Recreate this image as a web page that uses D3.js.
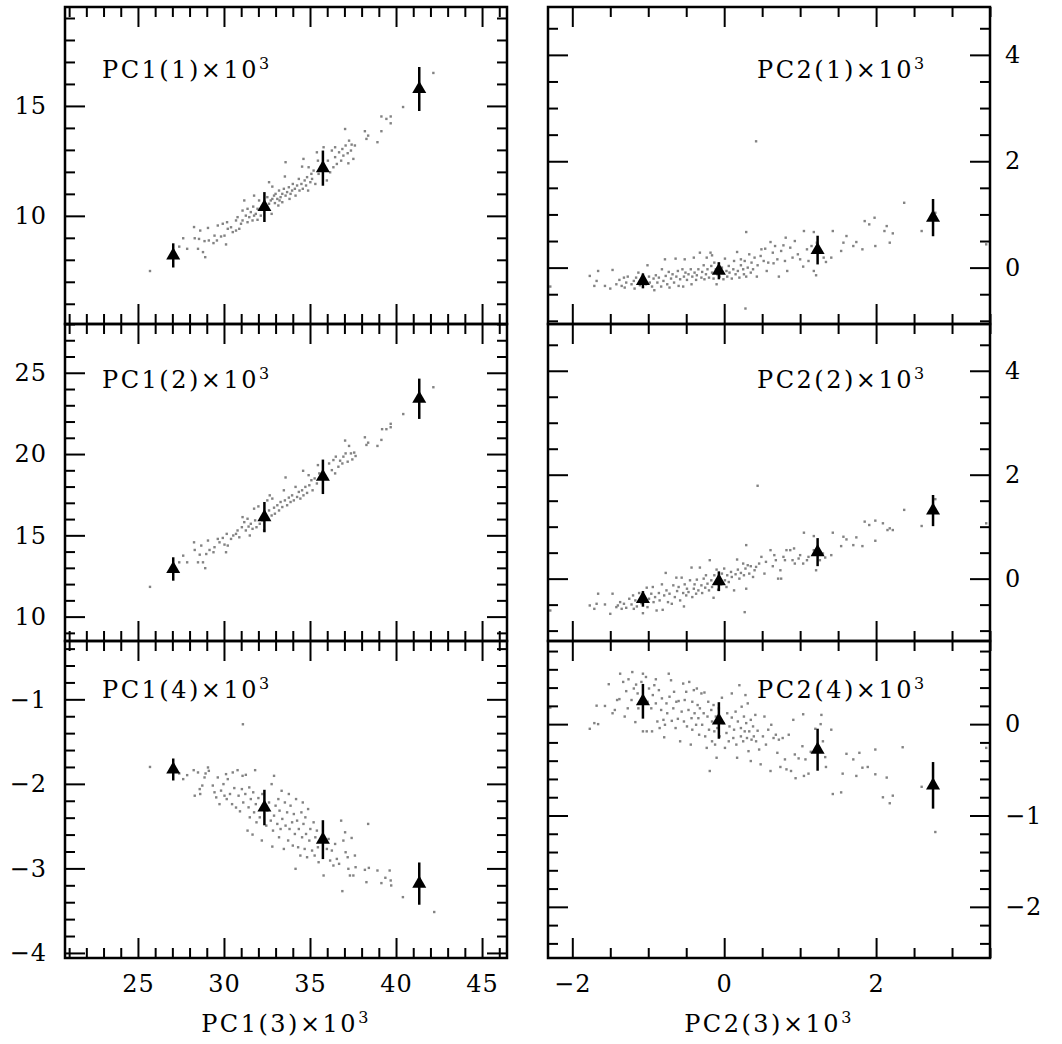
<!DOCTYPE html>
<html>
<head>
<meta charset="utf-8">
<script src="https://cdn.jsdelivr.net/npm/d3@7"></script>
<style>
html, body { margin: 0; padding: 0; background: #fff; }
svg { display: block; }
text { font-family: "DejaVu Serif", serif; font-size: 24px; fill: #000; }
.tick text { letter-spacing: 1px; }
.tick line { stroke: #000; stroke-width: 2; }
.frame { fill: none; stroke: #000; stroke-width: 2.5; }
.pt { fill: #838383; }
.err { stroke: #000; stroke-width: 2.5; }
.lbl { letter-spacing: 2.5px; }
.sup { font-size: 16px; }
</style>
</head>
<body>
<svg id="chart" width="1062" height="1044"></svg>
<script>
// tick labels
const xTicksA = [25, 30, 35, 40, 45]
const xTicksB = [-2, 0, 2]
const yTicksA1 = [10, 15]
const yTicksA2 = [10, 15, 20, 25]
const yTicksA4 = [-4, -3, -2, -1]
const yTicksB1 = [0, 2, 4]
const yTicksB2 = [0, 2, 4]
const yTicksB4 = [-2, -1, 0]

// panel names (each followed by ×10³)
const panelNames = ['PC1(1)', 'PC1(2)', 'PC1(4)', 'PC2(1)', 'PC2(2)', 'PC2(4)']
const axisNames = ['PC1(3)', 'PC2(3)']

// binned means (triangles) and their errors
const triXA = [27.05, 32.35, 35.75, 41.35]
const triXB = [-1.07, -0.07, 1.23, 2.75]
const triA1 = [8.2, 10.4, 12.17, 15.77],   errA1 = [0.55, 0.68, 0.8, 1.0]
const triA2 = [12.93, 16.12, 18.6, 23.4],  errA2 = [0.72, 0.93, 1.06, 1.24]
const triA4 = [-1.83, -2.28, -2.66, -3.18], errA4 = [0.13, 0.21, 0.23, 0.25]
const triB1 = [-0.25, -0.06, 0.33, 0.94],  errB1 = [0.14, 0.16, 0.27, 0.35]
const triB2 = [-0.39, -0.05, 0.51, 1.31],  errB2 = [0.15, 0.19, 0.27, 0.3]
const triB4 = [0.25, 0.04, -0.28, -0.67],  errB4 = [0.19, 0.2, 0.23, 0.255]

// scatter: PC1(3) vs PC1(1)
const ptsA1 = [[25.7,7.49],[27.4,8.6],[27.63,8.98],[27.86,8.5],[28.26,9.49],[28.3,8.98],[28.55,8.95],[28.62,9.33],[28.49,8.5],[28.78,8.35],
[28.91,8.12],[28.87,8.85],[29.07,9.45],[29.12,8.88],[29.39,8.76],[29.45,9.1],[29.59,8.88],[29.64,9.56],[29.83,9.06],[29.93,9.64],
[30.03,9.1],[30.12,8.7],[30.18,9.71],[30.22,9.41],[30.41,9.48],[30.51,9.26],[30.7,9.33],[30.7,9.79],[30.79,9.94],[30.89,9.41],
[30.99,9.64],[31.08,9.79],[31.08,10.24],[31.18,10.7],[31.27,10.01],[31.37,9.71],[31.37,10.32],[31.47,9.94],[31.56,10.17],[31.66,9.79],
[31.7,10.42],[31.75,10.92],[31.75,10.01],[31.85,10.09],[31.95,10.32],[31.95,9.82],[32.04,10.7],[32.14,10.01],[32.52,10.85],[32.62,11.53],
[32.62,10.55],[32.72,10.7],[32.77,10.09],[32.81,11.33],[32.81,10.77],[32.91,10.92],[32.96,10.58],[33.0,11.0],[33.1,10.77],[33.16,10.47],
[33.2,11.15],[33.23,10.7],[33.29,10.85],[33.39,11.0],[33.39,10.62],[33.48,11.23],[33.54,11.79],[33.58,10.92],[33.58,12.44],[33.67,11.08],
[33.77,11.3],[33.81,10.77],[33.87,11.0],[33.96,11.15],[34.0,11.45],[34.12,11.23],[34.16,10.92],[34.25,11.38],[34.35,11.68],[34.39,11.15],
[34.5,11.45],[34.54,12.24],[34.58,11.23],[34.62,12.59],[34.69,11.61],[34.77,11.38],[34.83,11.76],[34.89,11.15],[34.92,12.21],[35.02,11.53],
[35.08,11.91],[35.12,11.68],[35.21,12.06],[35.31,11.45],[35.4,12.89],[35.46,12.51],[35.5,11.91],[35.6,12.14],[35.79,13.12],[35.98,11.61],
[36.04,12.51],[36.17,11.98],[36.27,12.97],[36.36,12.21],[36.46,12.67],[36.46,13.12],[36.56,12.36],[36.69,12.89],[36.81,12.51],[36.88,13.04],
[36.94,12.74],[37.04,13.95],[37.07,13.2],[37.19,12.85],[37.23,12.39],[37.27,13.42],[37.38,12.97],[37.42,13.24],[37.52,12.59],[37.61,13.2],
[38.19,13.85],[38.28,13.5],[38.38,13.65],[38.92,13.35],[39.15,13.85],[39.15,14.52],[39.44,14.41],[39.69,14.52],[39.69,14.21],[40.41,14.95],
[42.17,16.5]]

// scatter: PC1(3) vs PC1(2)
const ptsA2 = [[25.7,11.83],[27.4,13.34],[27.63,13.75],[27.86,13.34],[28.26,14.57],[28.3,14.1],[28.49,13.34],[28.59,13.81],[28.68,14.37],[28.78,13.34],
[28.91,12.98],[28.97,13.85],[29.07,14.68],[29.16,14.1],[29.39,13.96],[29.45,14.27],[29.64,14.78],[29.74,14.57],[29.93,14.84],[30.03,14.43],
[30.12,13.96],[30.16,15.09],[30.22,14.37],[30.41,14.78],[30.54,14.99],[30.7,15.09],[30.79,15.3],[30.89,14.88],[31.04,15.5],[31.08,16.12],
[31.18,15.81],[31.27,15.3],[31.37,16.02],[31.43,15.54],[31.5,14.99],[31.56,15.71],[31.66,15.4],[31.75,16.64],[31.81,15.92],[31.89,15.5],
[32.0,16.78],[32.08,15.71],[32.23,15.92],[32.33,15.3],[32.52,17.15],[32.62,16.53],[32.66,17.46],[32.77,16.22],[32.81,17.26],[32.91,16.7],
[32.96,16.33],[33.1,16.85],[33.2,16.53],[33.29,17.05],[33.39,16.74],[33.48,17.77],[33.54,17.15],[33.58,18.56],[33.67,16.85],[33.77,17.32],
[33.87,17.05],[33.96,17.46],[34.06,17.15],[34.16,17.98],[34.25,17.36],[34.35,17.67],[34.44,17.26],[34.54,17.77],[34.6,18.97],[34.62,17.46],
[34.73,17.98],[34.83,17.61],[34.92,18.7],[34.96,18.08],[35.08,18.39],[35.15,17.77],[35.27,18.5],[35.4,18.19],[35.46,19.32],[35.54,18.81],
[35.98,18.5],[36.11,19.42],[36.27,19.01],[36.36,19.63],[36.46,18.81],[36.5,19.84],[36.65,19.22],[36.75,19.59],[36.88,19.42],[36.94,19.84],
[37.04,20.83],[37.07,20.04],[37.19,19.53],[37.27,20.5],[37.38,20.04],[37.46,19.67],[37.57,20.09],[37.65,19.88],[38.19,21.03],[38.28,20.56],
[38.38,20.7],[38.92,20.5],[39.15,20.87],[39.19,21.53],[39.44,21.53],[39.69,21.86],[39.69,21.65],[40.42,22.46],[42.17,24.11]]

// scatter: PC1(3) vs PC1(4)
const ptsA4 = [[25.7,-1.8],[27.4,-1.877],[27.63,-1.944],[27.86,-1.897],[28.24,-1.838],[28.3,-2.14],[28.49,-1.865],[28.59,-2.062],[28.62,-2.12],[28.74,-2.02],
[28.87,-1.924],[28.93,-1.877],[29.07,-1.806],[29.12,-1.846],[29.35,-2.02],[29.45,-2.1],[29.55,-2.16],[29.64,-1.924],[29.74,-2.24],[29.83,-2.08],
[29.97,-2.003],[30.03,-2.14],[30.12,-1.885],[30.16,-2.18],[30.22,-1.944],[30.35,-2.12],[30.47,-2.24],[30.51,-1.865],[30.6,-2.05],[30.7,-2.28],
[30.79,-1.838],[30.85,-2.14],[30.93,-2.325],[31.04,-2.062],[31.08,-1.905],[31.12,-2.22],[31.24,-2.12],[31.27,-1.893],[31.37,-2.553],[31.43,-2.278],
[31.47,-2.042],[31.5,-2.396],[31.56,-2.18],[31.66,-2.6],[31.7,-2.1],[31.75,-2.337],[31.81,-1.838],[31.85,-2.24],[31.89,-2.455],[32.0,-2.168],
[32.08,-2.396],[32.2,-2.67],[32.23,-2.12],[32.46,-2.494],[32.52,-2.317],[32.62,-2.22],[32.72,-2.435],[32.77,-2.003],[32.81,-2.742],[32.85,-2.553],
[32.91,-1.905],[32.91,-2.376],[33.0,-2.258],[33.1,-2.474],[33.16,-2.18],[33.2,-2.632],[33.23,-2.317],[33.29,-2.534],[33.35,-2.082],[33.39,-2.415],
[33.48,-2.77],[33.54,-2.22],[33.58,-2.494],[33.67,-2.337],[33.73,-2.67],[33.77,-2.12],[33.81,-2.534],[33.87,-2.258],[33.96,-2.455],[34.0,-2.73],
[34.06,-2.357],[34.12,-2.593],[34.16,-3.005],[34.19,-2.18],[34.25,-2.435],[34.31,-2.75],[34.35,-2.534],[34.44,-2.848],[34.5,-2.337],[34.54,-2.632],
[34.58,-2.22],[34.62,-2.474],[34.69,-2.77],[34.73,-2.396],[34.77,-2.593],[34.83,-2.868],[34.89,-2.298],[34.96,-2.671],[35.02,-2.534],[35.12,-2.789],
[35.21,-2.455],[35.27,-2.848],[35.31,-2.632],[35.4,-2.553],[35.46,-2.75],[35.5,-2.927],[35.6,-2.671],[35.79,-3.084],[35.98,-2.77],[36.08,-2.652],
[36.17,-2.907],[36.27,-2.789],[36.36,-2.966],[36.46,-2.711],[36.56,-2.888],[36.69,-2.946],[36.81,-2.435],[36.88,-3.269],[36.94,-2.671],[37.04,-2.573],
[37.07,-2.809],[37.19,-2.868],[37.23,-3.005],[37.32,-3.084],[37.42,-2.64],[37.52,-3.084],[37.61,-2.848],[37.65,-2.986],[38.19,-3.017],[38.28,-3.163],
[38.38,-2.474],[38.42,-2.994],[38.92,-3.025],[39.15,-3.174],[39.38,-3.111],[39.63,-3.025],[39.69,-3.143],[39.72,-3.202],[40.4,-3.34],[42.22,-3.516],
[31.1,-1.295]]

// scatter: PC2(3) vs PC2(1)
const ptsB1 = [[-2.29,-0.356],[-1.77,-0.156],[-1.71,-0.344],[-1.68,-0.25],[-1.66,-0.063],[-1.57,-0.344],[-1.5,-0.394],[-1.47,-0.044],[-1.42,-0.313],[-1.38,-0.231],
[-1.35,-0.344],[-1.32,-0.188],[-1.31,-0.375],[-1.29,-0.281],[-1.27,-0.169],[-1.22,-0.313],[-1.19,-0.25],[-1.18,-0.394],[-1.16,-0.188],[-1.13,-0.094],
[-1.11,-0.331],[-1.03,-0.313],[-1.01,0.044],[-0.99,-0.169],[-0.98,-0.281],[-0.95,-0.356],[-0.93,-0.206],[-0.92,-0.425],[-0.9,-0.144],[-0.88,-0.281],
[-0.86,-0.188],[-0.83,-0.356],[-0.82,-0.031],[-0.8,-0.25],[-0.78,0.156],[-0.77,-0.156],[-0.75,-0.313],[-0.73,-0.081],[-0.72,-0.375],[-0.7,-0.206],
[-0.68,-0.125],[-0.66,-0.281],[-0.64,0.169],[-0.63,-0.169],[-0.61,-0.063],[-0.6,-0.344],[-0.58,-0.219],[-0.55,-0.031],[-0.54,-0.356],[-0.53,-0.169],
[-0.52,0.156],[-0.51,-0.094],[-0.49,-0.231],[-0.47,-0.125],[-0.44,-0.031],[-0.43,-0.313],[-0.42,-0.169],[-0.4,0.188],[-0.39,-0.094],[-0.37,-0.231],
[-0.36,-0.144],[-0.34,-0.031],[-0.32,0.281],[-0.3,-0.188],[-0.29,-0.081],[-0.27,0.044],[-0.26,-0.219],[-0.24,-0.125],[-0.23,0.188],[-0.22,-0.031],
[-0.2,-0.188],[-0.18,0.281],[-0.17,0.031],[-0.16,-0.094],[-0.16,0.231],[-0.14,-0.206],[-0.13,0.094],[-0.11,-0.031],[-0.1,-0.313],[-0.09,-0.125],
[-0.07,0.081],[-0.06,-0.169],[-0.03,0.0],[-0.01,-0.219],[0.01,0.169],[0.03,-0.063],[0.04,-0.169],[0.06,0.031],[0.07,-0.094],[0.1,-0.206],
[0.12,-0.031],[0.13,0.125],[0.15,-0.125],[0.17,0.294],[0.18,-0.063],[0.2,-0.188],[0.22,0.044],[0.22,0.156],[0.25,-0.031],[0.26,-0.125],
[0.27,0.125],[0.28,-0.769],[0.29,0.669],[0.29,-0.169],[0.31,0.0],[0.33,0.25],[0.35,-0.094],[0.36,0.094],[0.38,-0.031],[0.4,0.188],
[0.43,-0.169],[0.44,0.044],[0.48,0.219],[0.49,0.344],[0.52,0.125],[0.54,0.356],[0.56,-0.063],[0.58,0.094],[0.61,0.481],[0.64,0.281],
[0.65,0.081],[0.67,0.406],[0.7,0.156],[0.72,-0.169],[0.75,0.313],[0.78,0.419],[0.8,0.125],[0.81,0.563],[0.83,-0.063],[0.87,0.375],
[0.9,0.188],[0.93,0.5],[0.97,0.25],[1.0,0.156],[1.04,0.019],[1.05,0.688],[1.09,0.344],[1.11,0.125],[1.15,0.406],[1.18,0.669],
[1.18,-0.063],[1.21,-0.144],[1.22,0.469],[1.31,0.188],[1.34,0.106],[1.41,0.188],[1.43,0.688],[1.54,0.313],[1.57,0.469],[1.61,0.594],
[1.7,0.406],[1.74,0.481],[1.82,0.344],[1.85,0.875],[1.91,0.813],[1.98,0.938],[1.99,0.406],[2.11,0.688],[2.14,0.781],[2.18,0.469],
[2.22,0.644],[2.37,1.219],[2.6,0.688],[2.78,1.031],[3.45,0.438],[0.42,2.375]]

// scatter: PC2(3) vs PC2(2)
const ptsB2 = [[-2.29,-0.613],[-1.77,-0.516],[-1.71,-0.581],[-1.68,-0.484],[-1.66,-0.29],[-1.57,-0.497],[-1.5,-0.677],[-1.47,-0.29],[-1.42,-0.548],[-1.4,-0.516],
[-1.37,-0.452],[-1.35,-0.581],[-1.32,-0.484],[-1.29,-0.561],[-1.25,-0.387],[-1.22,-0.497],[-1.2,-0.323],[-1.19,-0.581],[-1.17,-0.419],[-1.15,-0.535],
[-1.12,-0.277],[-1.09,-0.471],[-1.07,-0.665],[-1.05,-0.355],[-1.02,-0.174],[-1.01,-0.548],[-0.99,-0.387],[-0.96,-0.29],[-0.94,-0.161],[-0.93,-0.452],
[-0.91,-0.355],[-0.89,-0.613],[-0.86,-0.277],[-0.85,-0.419],[-0.82,-0.11],[-0.81,-0.6],[-0.79,-0.323],[-0.77,0.11],[-0.76,-0.226],[-0.74,-0.452],
[-0.72,-0.29],[-0.69,-0.484],[-0.67,-0.129],[-0.65,-0.355],[-0.63,0.019],[-0.62,-0.239],[-0.6,-0.161],[-0.58,-0.419],[-0.56,0.019],[-0.54,-0.277],
[-0.53,-0.535],[-0.52,-0.11],[-0.5,-0.323],[-0.49,-0.194],[-0.47,-0.258],[-0.45,-0.032],[-0.43,0.213],[-0.42,-0.355],[-0.4,-0.194],[-0.39,-0.11],
[-0.37,-0.29],[-0.36,-0.019],[-0.34,-0.226],[-0.32,0.213],[-0.3,-0.129],[-0.29,-0.277],[-0.27,0.0],[-0.25,-0.174],[-0.24,0.065],[-0.22,-0.097],
[-0.2,-0.226],[-0.19,0.355],[-0.17,-0.032],[-0.16,-0.161],[-0.14,-0.368],[-0.13,0.065],[-0.11,-0.084],[-0.1,0.174],[-0.08,-0.213],[-0.07,0.0],
[-0.04,-0.11],[-0.03,0.097],[0.0,0.194],[0.01,-0.032],[0.03,-0.161],[0.04,0.065],[0.06,-0.065],[0.09,0.129],[0.1,0.032],[0.13,-0.226],
[0.15,0.084],[0.17,0.368],[0.18,0.174],[0.2,0.0],[0.22,0.11],[0.25,0.29],[0.26,0.065],[0.27,-0.645],[0.28,0.194],[0.29,0.645],
[0.29,-0.194],[0.31,0.258],[0.33,0.097],[0.35,0.239],[0.38,0.032],[0.4,0.161],[0.42,0.226],[0.44,1.787],[0.46,0.29],[0.49,0.419],
[0.53,0.097],[0.55,0.323],[0.61,0.548],[0.64,0.239],[0.66,0.452],[0.68,0.355],[0.71,0.0],[0.74,0.161],[0.75,0.0],[0.78,0.419],
[0.8,0.355],[0.82,0.548],[0.87,0.548],[0.9,0.355],[0.92,0.581],[0.93,0.29],[0.98,0.387],[1.0,0.452],[1.04,0.29],[1.05,0.884],
[1.09,0.355],[1.11,0.419],[1.18,0.819],[1.18,0.548],[1.21,0.161],[1.26,0.355],[1.3,0.484],[1.33,0.406],[1.41,0.452],[1.43,0.884],
[1.54,0.626],[1.57,0.806],[1.61,0.755],[1.7,0.645],[1.74,0.794],[1.82,0.626],[1.85,1.097],[1.91,1.032],[1.99,1.116],[1.99,0.729],
[2.09,1.065],[2.15,0.935],[2.18,0.968],[2.22,0.935],[2.37,1.323],[2.6,1.013],[2.78,1.529],[3.45,1.065]]

// scatter: PC2(3) vs PC2(4)
const ptsB4 = [[-2.29,0.181],[-1.77,-0.051],[-1.71,0.011],[-1.68,0.202],[-1.66,0.0],[-1.57,0.199],[-1.52,0.437],[-1.47,0.119],[-1.44,0.155],[-1.41,0.264],
[-1.38,0.274],[-1.37,0.552],[-1.33,0.462],[-1.31,0.083],[-1.29,0.361],[-1.27,0.173],[-1.26,0.491],[-1.22,0.264],[-1.21,0.57],[-1.19,0.39],
[-1.17,0.022],[-1.16,0.433],[-1.14,0.336],[-1.13,0.173],[-1.09,0.462],[-1.07,0.552],[-1.07,-0.079],[-1.03,0.516],[-1.02,-0.079],[-1.01,0.245],
[-0.99,0.39],[-0.96,0.173],[-0.95,-0.079],[-0.94,0.318],[-0.92,0.426],[-0.9,0.491],[-0.9,0.227],[-0.88,0.029],[-0.86,0.372],[-0.85,-0.043],
[-0.83,0.155],[-0.82,0.282],[-0.8,0.047],[-0.79,-0.144],[-0.78,-0.007],[-0.76,0.227],[-0.75,0.119],[-0.73,0.552],[-0.72,0.3],[-0.7,0.48],
[-0.69,0.036],[-0.67,0.173],[-0.66,0.354],[-0.64,-0.043],[-0.63,0.245],[-0.61,0.058],[-0.6,0.253],[-0.58,-0.188],[-0.56,0.137],[-0.54,0.444],
[-0.53,0.029],[-0.52,0.264],[-0.5,0.354],[-0.49,-0.025],[-0.47,0.155],[-0.46,0.462],[-0.44,-0.224],[-0.43,0.065],[-0.42,0.245],[-0.42,-0.061],
[-0.4,0.372],[-0.39,0.119],[-0.37,-0.007],[-0.36,0.39],[-0.35,0.209],[-0.34,0.065],[-0.33,-0.116],[-0.32,0.173],[-0.3,0.336],[-0.29,-0.007],
[-0.27,0.119],[-0.26,0.346],[-0.25,-0.134],[-0.23,-0.26],[-0.22,0.083],[-0.21,0.245],[-0.2,-0.061],[-0.19,-0.513],[-0.17,0.155],[-0.16,-0.188],
[-0.16,0.029],[-0.14,0.209],[-0.13,-0.079],[-0.12,-0.224],[-0.11,0.083],[-0.1,-0.368],[-0.09,-0.043],[-0.07,0.173],[-0.06,-0.134],[-0.03,0.289],
[-0.01,0.011],[0.01,-0.26],[0.03,-0.097],[0.04,0.119],[0.06,-0.188],[0.07,-0.025],[0.1,0.072],[0.1,0.336],[0.12,-0.152],[0.13,-0.061],
[0.15,0.137],[0.16,-0.224],[0.17,-0.368],[0.18,0.029],[0.2,0.426],[0.22,-0.134],[0.22,-0.043],[0.23,0.191],[0.25,-0.188],[0.26,0.083],
[0.27,-0.079],[0.28,0.318],[0.29,0.011],[0.3,-0.152],[0.31,0.227],[0.32,-0.296],[0.33,-0.079],[0.35,0.047],[0.35,-0.404],[0.36,-0.17],
[0.38,-0.025],[0.39,-0.134],[0.41,0.101],[0.42,-0.188],[0.44,-0.072],[0.46,-0.278],[0.48,-0.44],[0.51,-0.134],[0.53,0.083],[0.55,-0.224],
[0.58,-0.061],[0.61,-0.513],[0.62,-0.007],[0.65,-0.152],[0.68,-0.116],[0.7,-0.314],[0.72,-0.17],[0.74,-0.469],[0.77,-0.152],[0.8,-0.386],
[0.82,-0.495],[0.85,-0.116],[0.88,-0.513],[0.91,0.047],[0.93,-0.332],[0.94,-0.592],[0.98,-0.375],[1.03,-0.242],[1.04,0.108],[1.05,-0.567],
[1.07,-0.386],[1.11,-0.542],[1.14,-0.303],[1.2,-0.051],[1.22,-0.289],[1.27,0.0],[1.28,0.101],[1.3,-0.188],[1.33,-0.361],[1.34,-0.469],
[1.41,-0.061],[1.43,-0.765],[1.54,-0.747],[1.56,-0.542],[1.61,-0.325],[1.7,-0.386],[1.74,-0.567],[1.78,-0.314],[1.82,-0.477],[1.89,-0.469],
[1.99,-0.278],[1.99,-0.549],[2.09,-0.801],[2.14,-0.585],[2.18,-0.866],[2.22,-0.783],[2.35,-0.253],[2.6,-0.686],[2.78,-1.181],[3.45,-0.26]]

const W = 1062, H = 1044
const colX = [65, 548], rowY = [7, 324, 641]
const pw = 442, ph = 317
const labelDx = [37, 209], labelDy = [71, 64, 57]

const fmt = d3.format('d')

const xA = d3.scaleLinear().domain([20.76, 46.45]).range([0, pw])
const xB = d3.scaleLinear().domain([-2.32, 3.5]).range([0, pw])

const panels = [
  { col: 0, row: 0, x: xA, xt: xTicksA, xs: 1, dom: [5.08, 19.5], yt: yTicksA1, ys: 1, pts: ptsA1, tx: triXA, ty: triA1, te: errA1 },
  { col: 0, row: 1, x: xA, xt: xTicksA, xs: 1, dom: [8.5, 28], yt: yTicksA2, ys: 1, pts: ptsA2, tx: triXA, ty: triA2, te: errA2 },
  { col: 0, row: 2, x: xA, xt: xTicksA, xs: 1, dom: [-4.06, -0.31], yt: yTicksA4, ys: 0.2, pts: ptsA4, tx: triXA, ty: triA4, te: errA4 },
  { col: 1, row: 0, x: xB, xt: xTicksB, xs: 0.5, dom: [-1.06, 4.9], yt: yTicksB1, ys: 0.5, pts: ptsB1, tx: triXB, ty: triB1, te: errB1 },
  { col: 1, row: 1, x: xB, xt: xTicksB, xs: 0.5, dom: [-1.2, 4.9], yt: yTicksB2, ys: 0.5, pts: ptsB2, tx: triXB, ty: triB2, te: errB2 },
  { col: 1, row: 2, x: xB, xt: xTicksB, xs: 0.5, dom: [-2.56, 0.91], yt: yTicksB4, ys: 0.2, pts: ptsB4, tx: triXB, ty: triB4, te: errB4 }
]
panels.forEach((p, i) => p.name = panelNames[i])

const svg = d3.select('#chart')

function minors(scale, step, majors) {
  let dom = scale.domain()
  return d3.range(Math.ceil(dom[0] / step - 1e-6), Math.floor(dom[1] / step + 1e-6) + 1)
    .map(i => +(i * step).toFixed(4))
    .filter(v => !majors.some(m => Math.abs(m - v) < 1e-6))
}

function axis(g, fn, scale, majors, step, labelled, pad) {
  g.append('g')
    .call(fn(scale).tickValues(majors).tickSize(-20).tickPadding(pad).tickFormat(labelled ? fmt : ''))
    .call(s => s.select('.domain').remove())
  g.append('g')
    .call(fn(scale).tickValues(minors(scale, step, majors)).tickSize(-10).tickFormat(''))
    .call(s => s.select('.domain').remove())
}

// "NAME×10" with a raised 3
function label(t, name) {
  t.append('tspan').text(name + '×10')
  t.append('tspan').attr('class', 'sup').attr('dy', -9).text('3')
}

panels.forEach(p => {
  let g = svg.append('g').attr('transform', `translate(${colX[p.col]},${rowY[p.row]})`)
  let y = d3.scaleLinear().domain(p.dom).range([ph, 0])
  let x = p.x

  // points
  g.append('g').selectAll('rect')
    .data(p.pts)
    .enter()
    .append('rect')
    .attr('class', 'pt')
    .attr('x', d => x(d[0]) - 1.2)
    .attr('y', d => y(d[1]) - 1.2)
    .attr('width', 2.4)
    .attr('height', 2.4)

  // error bars + triangles
  let tri = p.tx.map((v, i) => ({ x: v, y: p.ty[i], e: p.te[i] }))
  g.append('g').selectAll('line')
    .data(tri)
    .enter()
    .append('line')
    .attr('class', 'err')
    .attr('x1', d => x(d.x)).attr('x2', d => x(d.x))
    .attr('y1', d => y(d.y - d.e)).attr('y2', d => y(d.y + d.e))
  g.append('g').selectAll('path')
    .data(tri)
    .enter()
    .append('path')
    .attr('d', d3.symbol(d3.symbolTriangle, 85))
    .attr('transform', d => `translate(${x(d.x)},${y(d.y)})`)
    .attr('fill', '#000')

  // axes, ticks inward on all four sides
  axis(g, d3.axisLeft, y, p.yt, p.ys, p.col === 0, 18)
  axis(g.append('g').attr('transform', `translate(${pw},0)`), d3.axisRight, y, p.yt, p.ys, p.col === 1, 15)
  axis(g.append('g').attr('transform', `translate(0,${ph})`), d3.axisBottom, x, p.xt, p.xs, p.row === 2, 17)
  axis(g, d3.axisTop, x, p.xt, p.xs, false, 0)

  g.append('rect').attr('class', 'frame').attr('width', pw).attr('height', ph)

  g.append('text')
    .attr('class', 'lbl')
    .attr('x', labelDx[p.col])
    .attr('y', labelDy[p.row])
    .call(label, p.name)
})

// x axis titles
axisNames.forEach((n, i) => {
  svg.append('text')
    .attr('class', 'lbl')
    .attr('x', colX[i] + pw / 2)
    .attr('y', 1032)
    .attr('text-anchor', 'middle')
    .call(label, n)
})
</script>
</body>
</html>
